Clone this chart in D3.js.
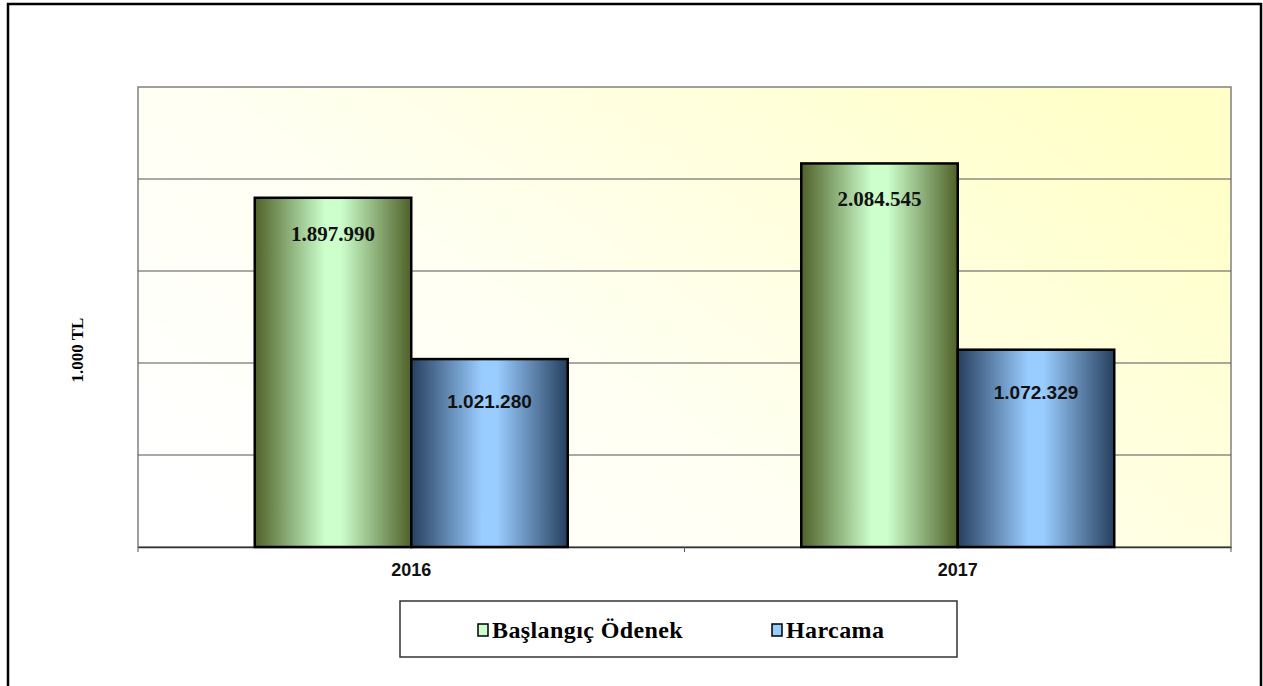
<!DOCTYPE html>
<html>
<head>
<meta charset="utf-8">
<script src="https://cdn.jsdelivr.net/npm/d3@7"></script>
<style>
  html, body { margin: 0; padding: 0; background: #fff; }
  svg { display: block; }
</style>
</head>
<body>
<div id="chart"></div>
<script>
const years = ["2016", "2017"];
const seriesNames = ["Başlangıç Ödenek", "Harcama"];
const baslangicOdenek = [1897990, 2084545];
const harcama = [1021280, 1072329];
const yTicks = [0, 500000, 1000000, 1500000, 2000000, 2500000];
const yLabel = "1.000 TL";

const width = 1263, height = 686;
const plot = { left: 138, top: 87, right: 1231, bottom: 547 };

const svg = d3.select("#chart")
  .append("svg")
  .attr("width", width)
  .attr("height", height);

const defs = svg.append("defs");

// plot area background, white to pale yellow
const bg = defs.append("linearGradient")
  .attr("id", "bg")
  .attr("x1", "0").attr("y1", "0.8")
  .attr("x2", "1").attr("y2", "0.2");
bg.append("stop").attr("offset", "0%").attr("stop-color", "#ffffff");
bg.append("stop").attr("offset", "40%").attr("stop-color", "#fffff2");
bg.append("stop").attr("offset", "100%").attr("stop-color", "#ffffc8");

// bar fills: dark edges, light middle
function barGradient(id, dark, light) {
  const g = defs.append("linearGradient")
    .attr("id", id)
    .attr("x1", "0").attr("y1", "0")
    .attr("x2", "1").attr("y2", "0");
  g.append("stop").attr("offset", "0%").attr("stop-color", dark);
  g.append("stop").attr("offset", "45%").attr("stop-color", light);
  g.append("stop").attr("offset", "55%").attr("stop-color", light);
  g.append("stop").attr("offset", "100%").attr("stop-color", dark);
}
barGradient("gGreen", "#4f6128", "#ccffcc");
barGradient("gBlue", "#263f5e", "#99ccff");

// outer frame
svg.append("rect")
  .attr("x", 8).attr("y", 4)
  .attr("width", 1253).attr("height", 686)
  .attr("fill", "none")
  .attr("stroke", "#000")
  .attr("stroke-width", 2.5);

const x0 = d3.scaleBand()
  .domain(years)
  .range([plot.left, plot.right]);

const x1 = d3.scaleBand()
  .domain(seriesNames)
  .range([0, 313])
  .paddingInner(0);

const y = d3.scaleLinear()
  .domain([0, 2500000])
  .range([plot.bottom, plot.top]);

svg.append("rect")
  .attr("x", plot.left).attr("y", plot.top)
  .attr("width", plot.right - plot.left)
  .attr("height", plot.bottom - plot.top)
  .attr("fill", "url(#bg)")
  .attr("stroke", "#808080")
  .attr("stroke-width", 1.5);

// gridlines
svg.append("g")
  .selectAll("line")
  .data(yTicks.slice(1, -1))
  .join("line")
  .attr("x1", plot.left).attr("x2", plot.right)
  .attr("y1", d => y(d)).attr("y2", d => y(d))
  .attr("stroke", "#555")
  .attr("stroke-width", 1.2);

// x axis
const xAxis = svg.append("g")
  .attr("transform", `translate(0,${plot.bottom})`)
  .call(d3.axisBottom(x0).tickSize(0).tickPadding(16));
xAxis.select(".domain").attr("stroke", "#333").attr("stroke-width", 1.5);
xAxis.selectAll("text")
  .attr("font-family", "Liberation Sans, Arial, sans-serif")
  .attr("font-weight", "bold")
  .attr("font-size", "18px")
  .attr("fill", "#111");
// category separator ticks
svg.append("g")
  .selectAll("line")
  .data([plot.left, x0("2017"), plot.right])
  .join("line")
  .attr("x1", d => d).attr("x2", d => d)
  .attr("y1", plot.bottom).attr("y2", plot.bottom + 5)
  .attr("stroke", "#555");

const series = [
  { name: seriesNames[0], values: baslangicOdenek, fill: "url(#gGreen)", font: "Liberation Serif, Times New Roman, serif", size: 21, off: 43 },
  { name: seriesNames[1], values: harcama, fill: "url(#gBlue)", font: "Liberation Sans, Arial, sans-serif", size: 19, off: 49 }
];

const fmt = v => d3.format(",")(v).replace(/,/g, ".");

const groups = svg.append("g")
  .selectAll("g")
  .data(years)
  .join("g")
  .attr("transform", d => `translate(${x0(d) + (x0.bandwidth() - 313) / 2},0)`);

series.forEach(s => {
  groups.append("rect")
    .attr("x", x1(s.name))
    .attr("y", (d, i) => y(s.values[i]))
    .attr("width", x1.bandwidth())
    .attr("height", (d, i) => y(0) - y(s.values[i]))
    .attr("fill", s.fill)
    .attr("stroke", "#000")
    .attr("stroke-width", 2.5);

  groups.append("text")
    .attr("x", x1(s.name) + x1.bandwidth() / 2)
    .attr("y", (d, i) => y(s.values[i]) + s.off)
    .attr("text-anchor", "middle")
    .attr("font-family", s.font)
    .attr("font-weight", "bold")
    .attr("font-size", s.size + "px")
    .attr("fill", "#111")
    .text((d, i) => fmt(s.values[i]));
});

// y axis title
svg.append("text")
  .attr("transform", `translate(83,350) rotate(-90)`)
  .attr("text-anchor", "middle")
  .attr("font-family", "Liberation Serif, Times New Roman, serif")
  .attr("font-weight", "bold")
  .attr("font-size", "17px")
  .text(yLabel);

// legend
const legend = svg.append("g");
legend.append("rect")
  .attr("x", 400).attr("y", 601)
  .attr("width", 557).attr("height", 56)
  .attr("fill", "#fff")
  .attr("stroke", "#333")
  .attr("stroke-width", 1.5);

const legendItems = [
  { name: seriesNames[0], color: "#ccffcc", x: 478 },
  { name: seriesNames[1], color: "#99ccff", x: 772 }
];
const li = legend.selectAll("g")
  .data(legendItems)
  .join("g")
  .attr("transform", d => `translate(${d.x},630)`);
li.append("rect")
  .attr("x", 0).attr("y", -6)
  .attr("width", 10).attr("height", 12)
  .attr("fill", d => d.color)
  .attr("stroke", "#000")
  .attr("stroke-width", 1.5);
li.append("text")
  .attr("x", 14).attr("y", 8)
  .attr("font-family", "Liberation Serif, Times New Roman, serif")
  .attr("font-weight", "bold")
  .attr("font-size", "24px")
  .attr("letter-spacing", "0.4px")
  .text(d => d.name);
</script>
</body>
</html>
